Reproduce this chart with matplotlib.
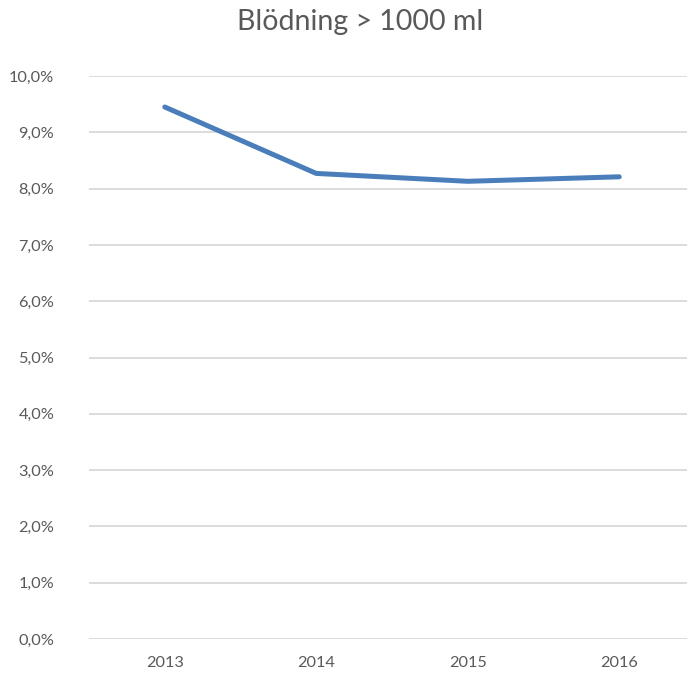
import matplotlib
matplotlib.use("Agg")
import matplotlib.pyplot as plt
from matplotlib.ticker import FuncFormatter

years = ["2013", "2014", "2015", "2016"]
share = [9.45, 8.27, 8.13, 8.21]   # procent
yticks = [0, 1, 2, 3, 4, 5, 6, 7, 8, 9, 10]

plt.rcParams["font.family"] = ["Lato", "DejaVu Sans"]
grey = "#595959"

fig = plt.figure(figsize=(6.87, 6.77), dpi=100)
ax = fig.add_axes([0.1296, 0.0561, 0.882, 0.8316])
ax.plot(range(len(years)), share, color="#4a7ebb", lw=3.6, solid_capstyle="round",
        solid_joinstyle="round", zorder=3)

ax.set_xlim(-0.5, len(years) - 0.5)
ax.set_ylim(0, 10)
ax.set_yticks(yticks)
ax.yaxis.set_major_formatter(FuncFormatter(lambda v, _: f"{v:.1f}%".replace(".", ",")))
ax.set_xticks(range(len(years)))
ax.set_xticklabels(years)
ax.grid(axis="y", color="#d9d9d9", lw=1.3)
ax.set_axisbelow(True)
for s in ax.spines.values():
    s.set_visible(False)
ax.tick_params(length=0, colors=grey, labelsize=11.7)
ax.tick_params(axis="y", pad=25)
ax.tick_params(axis="x", pad=12)

fig.text(0.524, 0.967, "Blödning > 1000 ml", ha="center", va="center",
         fontsize=20.5, color=grey)

fig.savefig("out.png", dpi=100)
